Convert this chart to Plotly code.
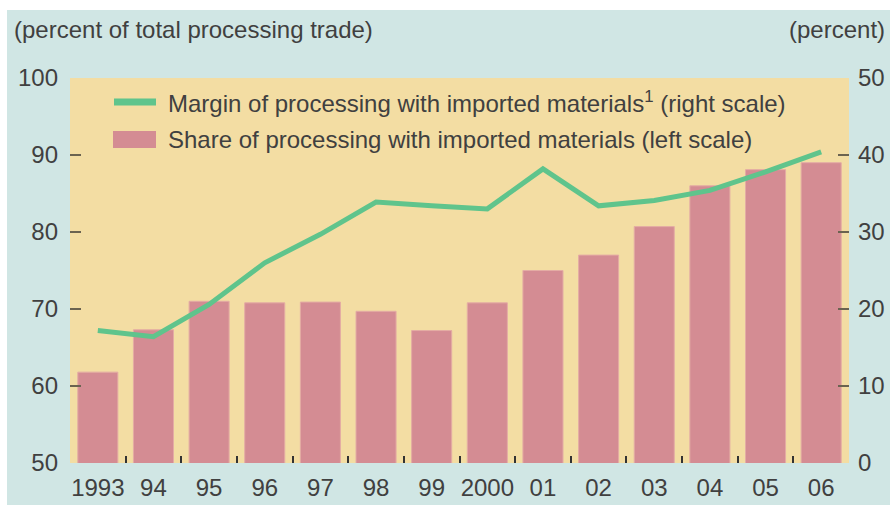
import plotly.graph_objects as go

years = ["1993", "94", "95", "96", "97", "98", "99", "2000", "01", "02", "03", "04", "05", "06"]
share_imported = [61.8, 67.3, 71.0, 70.8, 70.9, 69.7, 67.2, 70.8, 75.0, 77.0, 80.7, 86.0, 88.1, 89.0]
margin_imported = [17.2, 16.4, 20.6, 26.0, 29.7, 33.9, 33.4, 33.0, 38.2, 33.4, 34.1, 35.4, 37.8, 40.4]

left_ticks = [50, 60, 70, 80, 90, 100]
right_ticks = [0, 10, 20, 30, 40, 50]

line_label = "Margin of processing with imported materials<sup>1</sup> (right scale)"
bar_label = "Share of processing with imported materials (left scale)"

PANEL = "#d0e6e4"
PLOT_BG = "#f3dda3"
BAR_COLOR = "#d48c93"
LINE_COLOR = "#5fc48c"
TEXT = "#404040"
FONT = "Liberation Sans, Arial, sans-serif"

# plot area in pixels: x 70..849, y 78..463
PW, PH = 779, 385


def px_x(x):
    return (x - 70) / PW


def px_y(y):
    return (463 - y) / PH


fig = go.Figure()
fig.add_trace(go.Bar(
    x=years, y=share_imported, base=0, name=bar_label,
    marker=dict(color=BAR_COLOR, line=dict(color="#e4aca4", width=1)),
))
fig.add_trace(go.Scatter(
    x=years, y=margin_imported, yaxis="y2", mode="lines", name=line_label,
    line=dict(color=LINE_COLOR, width=5),
))

fig.update_layout(
    width=890, height=505,
    margin=dict(l=70, r=41, t=78, b=42, autoexpand=False),
    paper_bgcolor=PANEL,
    plot_bgcolor=PLOT_BG,
    font=dict(family=FONT, size=24, color=TEXT),
    bargap=0.28,
    showlegend=False,
    xaxis=dict(
        type="category", tickson="boundaries", ticks="inside", ticklen=7,
        tickwidth=2, tickcolor="#333", showgrid=False, showline=False,
        zeroline=False, range=[-0.5, 13.5], tickangle=0, automargin=False,
        ticklabelstandoff=8,
    ),
    yaxis=dict(
        range=[50, 100], tickvals=left_ticks, ticks="inside", ticklen=11,
        tickwidth=2, tickcolor="#6b6350", showgrid=False, zeroline=False,
        showline=False, ticklabelstandoff=11, automargin=False,
    ),
    yaxis2=dict(
        range=[0, 50], tickvals=right_ticks, overlaying="y", side="right",
        ticks="inside", ticklen=11, tickwidth=2, tickcolor="#6b6350",
        showgrid=False, zeroline=False, showline=False, ticklabelstandoff=8,
        automargin=False,
    ),
    shapes=[
        dict(type="rect", xref="paper", yref="paper", layer="below",
             x0=-0.2, x1=1.2, y0=px_y(10), y1=1.3,
             fillcolor="white", line_width=0),
        dict(type="rect", xref="paper", yref="paper", layer="below",
             x0=-0.2, x1=px_x(7), y0=-0.2, y1=1.3,
             fillcolor="white", line_width=0),
        # legend keys
        dict(type="line", xref="paper", yref="paper",
             x0=px_x(114), x1=px_x(156), y0=px_y(102), y1=px_y(102),
             line=dict(color=LINE_COLOR, width=7)),
        dict(type="rect", xref="paper", yref="paper",
             x0=px_x(113), x1=px_x(156), y0=px_y(148), y1=px_y(131),
             fillcolor=BAR_COLOR, line_width=0),
    ],
    annotations=[
        dict(text="(percent of total processing trade)", xref="paper", yref="paper",
             x=px_x(12), y=px_y(30), xanchor="left", yanchor="middle",
             showarrow=False),
        dict(text="(percent)", xref="paper", yref="paper",
             x=px_x(887), y=px_y(30), xanchor="right", yanchor="middle",
             showarrow=False),
        dict(text=line_label, xref="paper", yref="paper",
             x=px_x(166), y=px_y(102), xanchor="left", yanchor="middle",
             showarrow=False),
        dict(text=bar_label, xref="paper", yref="paper",
             x=px_x(166), y=px_y(139), xanchor="left", yanchor="middle",
             showarrow=False),
    ],
)

fig.write_html("out.html", config={"displayModeBar": False},
               post_script="document.body.style.margin='0';")
